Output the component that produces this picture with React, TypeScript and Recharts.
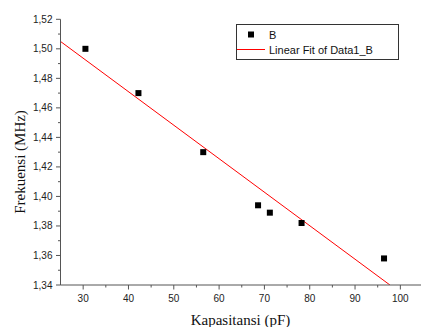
import { ComposedChart, Line, Scatter, XAxis, YAxis } from 'recharts'

// measured points (Kapasitansi pF, Frekuensi MHz)
const capacitance = [30.5, 42.2, 56.5, 68.6, 71.2, 78.2, 96.4]
const frequency = [1.5, 1.47, 1.43, 1.394, 1.389, 1.382, 1.358]

// linear fit line ends
const fitX = [25, 97.7]
const fitY = [1.505, 1.34]

const xTicks = [30, 35, 40, 45, 50, 55, 60, 65, 70, 75, 80, 85, 90, 95, 100, 105]
const yTicks = [1.34, 1.35, 1.36, 1.37, 1.38, 1.39, 1.4, 1.41, 1.42, 1.43, 1.44, 1.45, 1.46, 1.47, 1.48, 1.49, 1.5, 1.51, 1.52]

const points = capacitance.map((x, i) => ({ x, y: frequency[i] }))
const fit = fitX.map((x, i) => ({ x, y: fitY[i] }))

const AXIS = '#555'
const SANS = 'Arial, "Liberation Sans", sans-serif'
const SERIF = '"Times New Roman", "Liberation Serif", serif'

function XTick({ x, y, payload }: any) {
  const major = payload.value % 10 === 0
  return (
    <g>
      <line x1={x} x2={x} y1={y} y2={y + (major ? 4.5 : 2.5)} stroke={AXIS} />
      {major && (
        <text x={x} y={y + 16.5} textAnchor="middle" fontSize={10} fontFamily={SANS} fill="#222">
          {payload.value}
        </text>
      )}
    </g>
  )
}

function YTick({ x, y, payload }: any) {
  const major = Math.round(payload.value * 100) % 2 === 0
  return (
    <g>
      <line x1={x} x2={x - (major ? 4.5 : 2.5)} y1={y} y2={y} stroke={AXIS} />
      {major && (
        <text x={x - 8} y={y + 3.5} textAnchor="end" fontSize={10} fontFamily={SANS} fill="#222">
          {payload.value.toFixed(2).replace('.', ',')}
        </text>
      )}
    </g>
  )
}

function Square({ cx, cy }: any) {
  return <rect x={cx - 3} y={cy - 3} width={6} height={6} fill="#000" />
}

function LegendBox() {
  return (
    <svg width={164} height={37} style={{ position: 'absolute', left: 235.5, top: 23.5, display: 'block' }}>
      <rect x={0.5} y={0.5} width={162} height={35} fill="#fff" stroke="#333" />
      <rect x={12} y={7.5} width={6} height={6} fill="#000" />
      <text x={33} y={14.5} fontSize={11} fontFamily={SANS} fill="#111">B</text>
      <line x1={1} x2={29} y1={25.5} y2={25.5} stroke="#ff0000" />
      <text x={33} y={29.5} fontSize={11} fontFamily={SANS} fill="#111">Linear Fit of Data1_B</text>
    </svg>
  )
}

export default function App() {
  return (
    <div style={{ position: 'absolute', left: 0, top: 0, width: 421, height: 327, overflow: 'hidden', background: '#fff' }}>
      <ComposedChart width={425} height={327} margin={{ top: 19.3, right: 2, left: 0.5, bottom: 0 }}>
        <XAxis
          type="number"
          dataKey="x"
          domain={[25, 105]}
          ticks={xTicks}
          interval={0}
          tick={<XTick />}
          tickLine={false}
          tickSize={0}
          tickMargin={0}
          height={42}
          stroke={AXIS}
          allowDataOverflow
          label={{
            content: () => (
              <text x={240.5} y={325} textAnchor="middle" fontSize={15} fontFamily={SERIF} fill="#111">
                Kapasitansi (pF)
              </text>
            ),
          }}
        />
        <YAxis
          type="number"
          dataKey="y"
          domain={[1.34, 1.52]}
          ticks={yTicks}
          interval={0}
          tick={<YTick />}
          tickLine={false}
          tickSize={0}
          tickMargin={0}
          width={60}
          stroke={AXIS}
          allowDataOverflow
          label={{
            content: () => (
              <text transform="translate(24.5,162) rotate(-90)" textAnchor="middle" fontSize={15} fontFamily={SERIF} fill="#111">
                Frekuensi (MHz)
              </text>
            ),
          }}
        />
        <Line data={fit} dataKey="y" stroke="#ff0000" strokeWidth={1} dot={false} isAnimationActive={false} />
        <Scatter data={points} dataKey="y" shape={<Square />} isAnimationActive={false} />
      </ComposedChart>
      <LegendBox />
    </div>
  )
}
